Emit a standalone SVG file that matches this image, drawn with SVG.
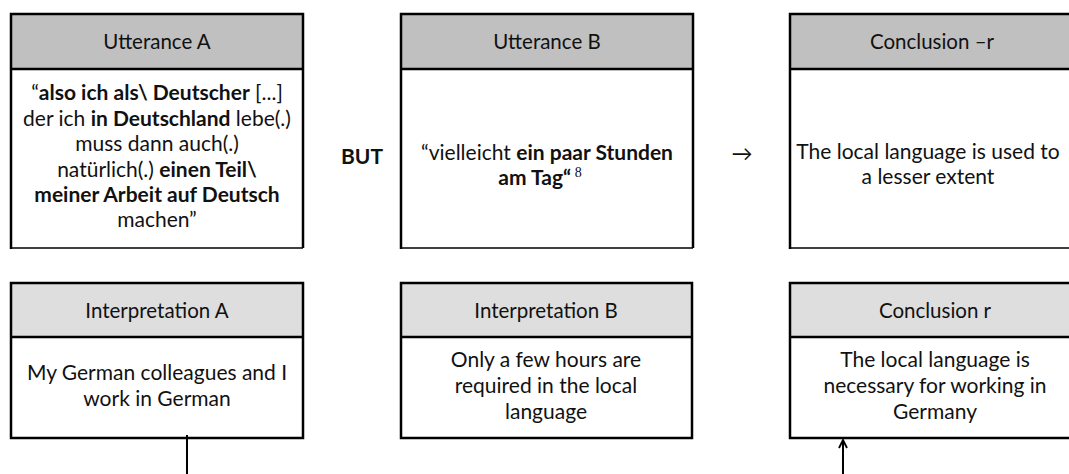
<svg xmlns="http://www.w3.org/2000/svg" width="1069" height="474" viewBox="0 0 1069 474">
<style>
  text { font-family: Lato, "Liberation Sans", sans-serif; font-size: 21px; fill: #111; text-anchor: middle; }
  .h { font-size: 20.5px; }
  .b { font-weight: bold; }
  .hdr1 { fill: #c0c0c0; }
  .hdr2 { fill: #dedede; }
  .frame { fill: none; stroke: #000; stroke-width: 2.5; }
  .thin { stroke: #000; stroke-width: 1.5; fill: none; }
  .conn { stroke: #000; stroke-width: 2; fill: none; }
</style>
<defs>
  <marker id="arr" viewBox="0 0 10 10" refX="9" refY="5" markerWidth="10" markerHeight="10" orient="auto" markerUnits="userSpaceOnUse">
    <path d="M1,1 L9,5 L1,9" fill="none" stroke="#000" stroke-width="1.8"/>
  </marker>
</defs>
<rect width="1069" height="474" fill="#fff"/>

<g id="utterance-a">
  <rect x="11" y="14" width="292" height="55" class="hdr1"/>
  <path d="M11,249 V14 H303 V248 M11,69 H303" class="frame"/>
  <path d="M11,248 H303" class="thin"/>
  <text x="157" y="49" class="h">Utterance A</text>
  <text x="157" y="100">“<tspan class="b">also ich als\ Deutscher</tspan> [...]</text>
  <text x="157" y="125.5">der ich <tspan class="b">in Deutschland</tspan> lebe(.)</text>
  <text x="157" y="151">muss dann auch(.)</text>
  <text x="157" y="176.5">natürlich(.) <tspan class="b">einen Teil\</tspan></text>
  <text x="157" y="202" class="b">meiner Arbeit auf Deutsch</text>
  <text x="157" y="227">machen”</text>
</g>

<g id="but">
  <text x="362" y="164" class="b">BUT</text>
</g>

<g id="utterance-b">
  <rect x="401" y="14" width="292" height="55" class="hdr1"/>
  <path d="M401,249 V14 H693 V248 M401,69 H693" class="frame"/>
  <path d="M401,248 H693" class="thin"/>
  <text x="547" y="49" class="h">Utterance B</text>
  <text x="547" y="160">“vielleicht <tspan class="b">ein paar Stunden</tspan></text>
  <text x="540" y="185"><tspan class="b">am Tag“</tspan><tspan font-family="Liberation Serif, serif" font-size="14" dy="-8"> 8</tspan></text>
</g>

<g id="arrow-sign">
  <text x="742" y="161">→</text>
</g>

<g id="conclusion-neg-r">
  <rect x="790" y="14" width="290" height="55" class="hdr1"/>
  <path d="M790,249 V14 H1080 M790,69 H1080" class="frame"/>
  <path d="M790,248 H1080" class="thin"/>
  <text x="932" y="49" class="h">Conclusion –r</text>
  <text x="928" y="159">The local language is used to</text>
  <text x="928" y="184">a lesser extent</text>
</g>

<g id="interpretation-a">
  <rect x="11" y="283" width="292" height="54" class="hdr2"/>
  <path d="M11,438 V283 H303 V438 Z M11,337 H303" class="frame"/>
  <text x="157" y="318" class="h">Interpretation A</text>
  <text x="157" y="380">My German colleagues and I</text>
  <text x="157" y="406">work in German</text>
</g>

<g id="interpretation-b">
  <rect x="401" y="283" width="291" height="54" class="hdr2"/>
  <path d="M401,438 V283 H692 V438 Z M401,337 H692" class="frame"/>
  <text x="546" y="318" class="h">Interpretation B</text>
  <text x="546" y="367">Only a few hours are</text>
  <text x="546" y="393">required in the local</text>
  <text x="546" y="419">language</text>
</g>

<g id="conclusion-r">
  <rect x="790" y="283" width="290" height="54" class="hdr2"/>
  <path d="M1080,438 H790 V283 H1080 M790,337 H1080" class="frame"/>
  <text x="935" y="318" class="h">Conclusion r</text>
  <text x="935" y="367">The local language is</text>
  <text x="935" y="393">necessary for working in</text>
  <text x="935" y="419">Germany</text>
</g>

<g id="connectors">
  <line x1="187" y1="435" x2="187" y2="474" class="conn"/>
  <line x1="843" y1="474" x2="843" y2="440" class="conn" marker-end="url(#arr)"/>
</g>
</svg>
